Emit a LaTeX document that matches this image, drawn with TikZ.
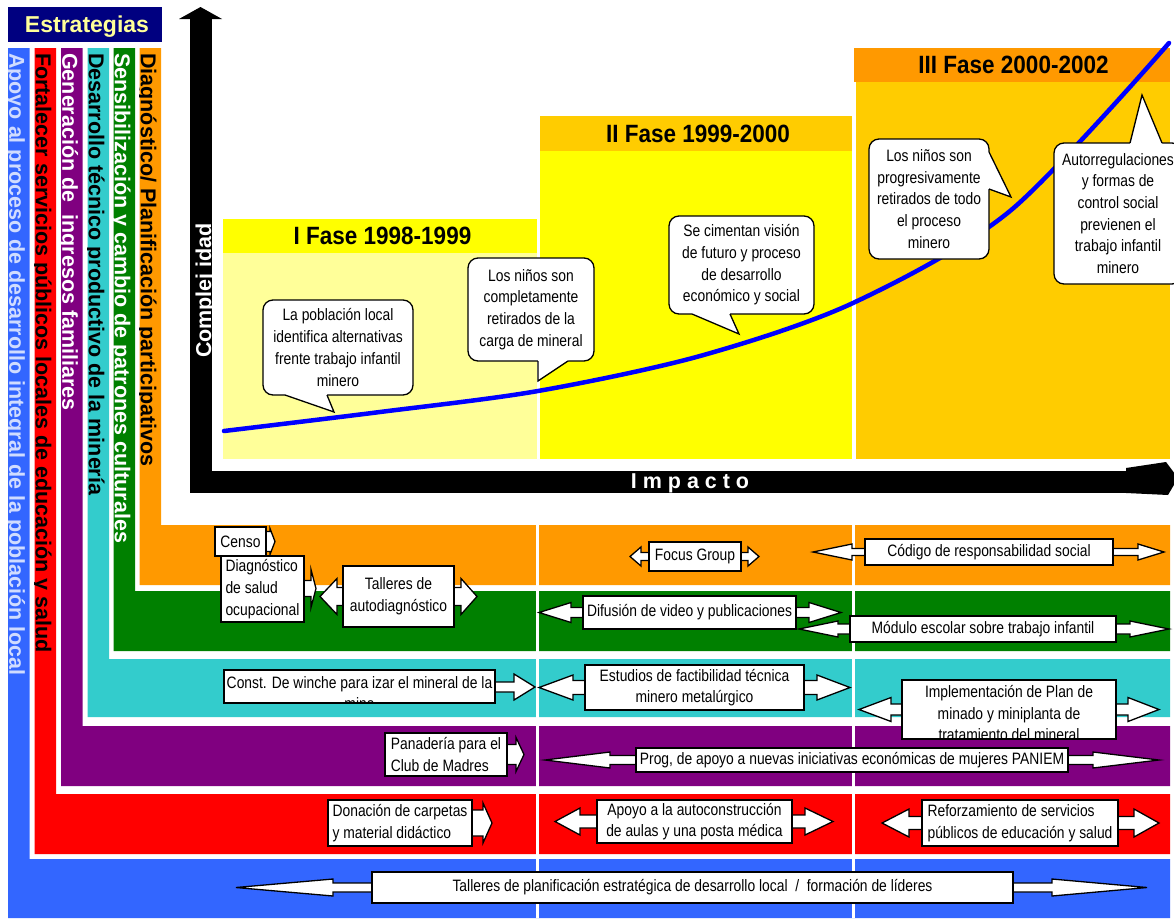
\documentclass[tikz,border=0pt]{standalone}
\usepackage{fontspec}
\setmainfont{Liberation Sans}
\newfontfamily\narrowfont[FakeStretch=0.84]{Liberation Sans}
\newfontfamily\titlefont[FakeStretch=0.9]{Liberation Sans}
\usetikzlibrary{calc}
\definecolor{NAVY}{HTML}{000080}
\definecolor{ESTRTXT}{HTML}{FFFF99}
\definecolor{SBLUE}{HTML}{3366FF}
\definecolor{SBLUETXT}{HTML}{D0DCFF}
\definecolor{SRED}{HTML}{FF0000}
\definecolor{SPURPLE}{HTML}{800080}
\definecolor{STEAL}{HTML}{33CCCC}
\definecolor{SGREEN}{HTML}{008000}
\definecolor{SORANGE}{HTML}{FF9900}
\definecolor{FYELLOW}{HTML}{FFFF00}
\definecolor{FPALE}{HTML}{FFFF99}
\definecolor{FGOLD}{HTML}{FFCC00}
\definecolor{CURVEBLUE}{HTML}{0000FF}

% block arrow behind a box: left tip, left head base, right head base, right tip, centre y, neck, head
\newcommand{\blockarrow}[7]{%
  \filldraw[arrowbody] (#1,#5) -- (#2,#5-#7) -- (#2,#5-#6) -- (#3,#5-#6) -- (#3,#5-#7)
    -- (#4,#5) -- (#3,#5+#7) -- (#3,#5+#6) -- (#2,#5+#6) -- (#2,#5+#7) -- cycle;}

\begin{document}
\begin{tikzpicture}[x=1pt, y=-1pt,
        callout/.style={draw, line width=1.3pt, fill=white, rounded corners=10pt,
                    inner sep=0pt, align=center, font=\narrowfont\fontsize{16.5}{21.7}\selectfont},
        tail/.style={line width=1.3pt},
        item/.style={draw, line width=1.3pt, fill=white, inner xsep=3pt, inner ysep=0pt,
                    align=center, font=\narrowfont\fontsize{16.5}{21.7}\selectfont},
        itemtext/.style={inner sep=0pt, align=center, font=\narrowfont\fontsize{16.5}{21.7}\selectfont},
        arrowbody/.style={draw, line width=1.3pt, fill=white},
        strat/.style={rotate=-90, anchor=base west, inner sep=0pt,
                    font=\fontsize{21.5}{24}\selectfont\bfseries},
        fase/.style={anchor=base, inner sep=0pt, font=\titlefont\fontsize{25}{28}\selectfont\bfseries},
        axislbl/.style={anchor=base, inner sep=0pt, text=white,
                    font=\fontsize{21.5}{24}\selectfont\bfseries},
        curve/.style={line width=4.5pt, color=CURVEBLUE, line cap=round}
      ]
        \useasboundingbox (0,0) rectangle (1174,918);
        \fill[white] (0,0) rectangle (1174,918);

        \fill[NAVY] (8,7) rectangle (162,42);
        \node[anchor=base, inner sep=0pt, text=ESTRTXT, font=\fontsize{23}{26}\selectfont\bfseries]
              (estrategias) at (87,32) {Estrategias};

        \foreach \nm/\xl/\bt/\bb/\col/\tcol/\lbl in {
            apoyo/8/859/918/SBLUE/SBLUETXT/{Apoyo al proceso de desarrollo integral de la población local},
            servicios/34.5/794/854/SRED/black/{Fortalecer servicios públicos locales de educación y salud},
            ingresos/61/726/786/SPURPLE/white/{Generación de~ ingresos familiares},
            mineria/87.5/659/717/STEAL/black/{Desarrollo técnico productivo de la minería},
            patrones/113.5/591/651/SGREEN/white/{Sensibilización y cambio de patrones culturales},
            diagnostico/139.5/525/585/SORANGE/black/{Diagnóstico/ Planificación participativos}}{
          \fill[\col] (\xl,48) -- ++(21.5,0) -- ({\xl+21.5},\bt) -- (1170,\bt) -- (1170,\bb) -- (\xl,\bb) -- cycle;
          \begin{scope}
            \clip (\xl,48) rectangle ({\xl+21.5},\bt);
            \node[strat, text=\tcol] (\nm) at ({\xl+1.3},53) {\lbl};
          \end{scope}
        }
        \fill[white] (536,525) rectangle (539,918);
        \fill[white] (852,525) rectangle (855,918);

        \fill[FPALE]   (223,253) rectangle (537,459);
        \fill[FYELLOW] (223,219) rectangle (537,253);
        \fill[FYELLOW] (539.5,151) rectangle (852,459);
        \fill[FGOLD]   (539.5,116) rectangle (852,151);
        \fill[FGOLD]   (855.5,82) rectangle (1170,459);
        \fill[SORANGE] (854,48) rectangle (1170,82);
        \node[fase] (faseI)   at (382.5,244) {I Fase 1998-1999};
        \node[fase] (faseII)  at (698,142)   {II Fase 1999-2000};
        \node[fase] (faseIII) at (1013.5,73) {III Fase 2000-2002};

        \draw[curve] plot[smooth, tension=0.5] coordinates {(224,431) (380,412) (538,391) (700,356)
              (853,303) (1010,211) (1169,43)};

        \fill (190,19) rectangle (212,493);
        \fill (179,19) -- (200.5,7) -- (222,19) -- cycle;
        \fill (190,471) rectangle (1168,493);
        \fill (1126,468) -- (1166,462) -- (1178,478) -- (1168,495) -- (1126,493) -- cycle;
        \node[axislbl, rotate=90] (complejidad) at (211,290.5) {Complej idad};
        \node[axislbl] (impacto) at (690,488) {I m p a c t o};

        \node[callout, minimum width=150pt, minimum height=95pt] (alternativas) at (338,347.5)
              {La población local\\identifica alternativas\\frente trabajo infantil\\minero};
        \fill[white] (285,395) -- (334,412) -- (327,395) -- (327,392) -- (285,392) -- cycle;
        \draw[tail] (285,395) -- (334,412) -- (327,395);

        \node[callout, minimum width=126pt, minimum height=103pt] (carga) at (531,309.5)
              {Los niños son\\completamente\\retirados de la\\carga de mineral};
        \fill[white] (538,361) -- (538,381) -- (568,361) -- (568,358) -- (538,358) -- cycle;
        \draw[tail] (538,361) -- (538,381) -- (568,361);

        \node[callout, minimum width=145pt, minimum height=98pt] (vision) at (741.5,265)
              {Se cimentan visión\\de futuro y proceso\\de desarrollo\\económico y social};
        \fill[white] (692,314) -- (739,334) -- (730,314) -- (730,311) -- (692,311) -- cycle;
        \draw[tail] (692,314) -- (739,334) -- (730,314);

        \node[callout, minimum width=120pt, minimum height=120pt] (todo) at (929,199)
              {Los niños son\\progresivamente\\retirados de todo\\el proceso\\minero};
        \fill[white] (989,152) -- (1011,197) -- (989,189) -- (986,189) -- (986,152) -- cycle;
        \draw[tail] (989,152) -- (1011,197) -- (989,189);

        \node[callout, minimum width=128pt, minimum height=141pt] (autorregulacion) at (1118,213.5)
              {Autorregulaciones\\y formas de\\control social\\previenen el\\trabajo infantil\\minero};
        \fill[white] (1130,143) -- (1142,95) -- (1162,143) -- (1162,146) -- (1130,146) -- cycle;
        \draw[tail] (1130,143) -- (1142,95) -- (1162,143);

        \blockarrow{240}{240}{270}{275}{541.5}{10}{13}
        \node[item, minimum width=51pt, minimum height=29pt] (censo) at (240.5,541.5) {Censo};
        \blockarrow{262}{262}{311}{316}{588.5}{8}{19}
        \node[item, align=left, minimum width=83pt, minimum height=66pt] (salud)
              at (262.5,589) {Diagnóstico\\de salud\\ocupacional};
        \blockarrow{320}{337}{461}{477}{596.5}{9}{18}
        \node[item, minimum width=111pt, minimum height=61pt] (autodiag) at (398.5,596.5)
              {Talleres de\\autodiagnóstico};
        \blockarrow{630}{641}{748}{759}{556.5}{4}{9.5}
        \node[item, minimum width=92pt, minimum height=29pt] (focus) at (695,556.5) {Focus Group};
        \blockarrow{813}{852}{1138}{1164}{552}{3.5}{8}
        \node[item, minimum width=248pt, minimum height=26pt] (codigo) at (989,552)
              {Código de responsabilidad social};

        \blockarrow{539}{571}{809}{841}{612.5}{5}{10}
        \node[item, minimum width=213pt, minimum height=33pt] (difusion) at (689.5,612.5)
              {Difusión de video y publicaciones};
        \blockarrow{799}{838}{1130}{1169}{629}{5}{8}
        \node[item, minimum width=266pt, minimum height=26pt] (modulo) at (983,629)
              {Módulo escolar sobre trabajo infantil};

        \blockarrow{360}{360}{514}{535}{687}{5}{13}
        \node[item, minimum width=271pt, minimum height=33pt] (winche) at (359.5,686.5) {};
        \begin{scope}
          \clip (winche.south west) rectangle (winche.north east);
          \node[itemtext, anchor=north] (wincheTxt) at (359.5,676)
                {Const. De winche para izar el mineral de la\\mina};
        \end{scope}
        \blockarrow{539}{573}{817}{850}{687.5}{7}{12.5}
        \node[item, minimum width=219pt, minimum height=45pt] (estudios) at (694.5,687.5)
              {Estudios de factibilidad técnica\\minero metalúrgico};
        \blockarrow{859}{891}{1128}{1159}{709.5}{5.5}{12}
        \node[item, minimum width=214pt, minimum height=59pt] (plan) at (1009,709.5) {};
        \begin{scope}
          \clip (plan.south west) rectangle (plan.north east);
          \node[itemtext, anchor=north] (planTxt) at (1009,685)
                {Implementación de Plan de\\minado y miniplanta de\\tratamiento del mineral};
        \end{scope}

        \blockarrow{446}{446}{516}{524}{754.5}{10}{17}
        \node[item, align=left, minimum width=122pt, minimum height=43pt] (panaderia)
              at (446,754.5) {Panadería para el\\Club de Madres};
        \blockarrow{545}{610}{1093}{1159}{760}{4.5}{8}
        \node[item, minimum width=432pt, minimum height=24pt] (paniem) at (852,760)
              {Prog, de apoyo a nuevas iniciativas económicas de mujeres PANIEM};

        \blockarrow{400}{400}{483}{492}{823}{13}{20}
        \node[item, align=left, minimum width=144pt, minimum height=46pt] (donacion)
              at (400,823) {Donación de carpetas\\y material didáctico};
        \blockarrow{555}{580}{805}{833}{821.5}{6.5}{13.5}
        \node[item, minimum width=195pt, minimum height=43pt] (aulas) at (694.5,821.5)
              {Apoyo a la autoconstrucción\\de aulas y una posta médica};
        \blockarrow{882}{909}{1134}{1159}{823}{6.5}{14}
        \node[item, align=left, minimum width=196pt, minimum height=46pt] (refuerzo)
              at (1020,823) {Reforzamiento de servicios\\públicos de educación y salud};

        \blockarrow{236}{333}{1052}{1147}{887.5}{4.5}{8.5}
        \node[item, minimum width=641pt, minimum height=31pt] (lideres) at (692.5,887.5)
              {Talleres de planificación estratégica de desarrollo local\ \ /\ \ formación de líderes};
      \end{tikzpicture}
\end{document}
